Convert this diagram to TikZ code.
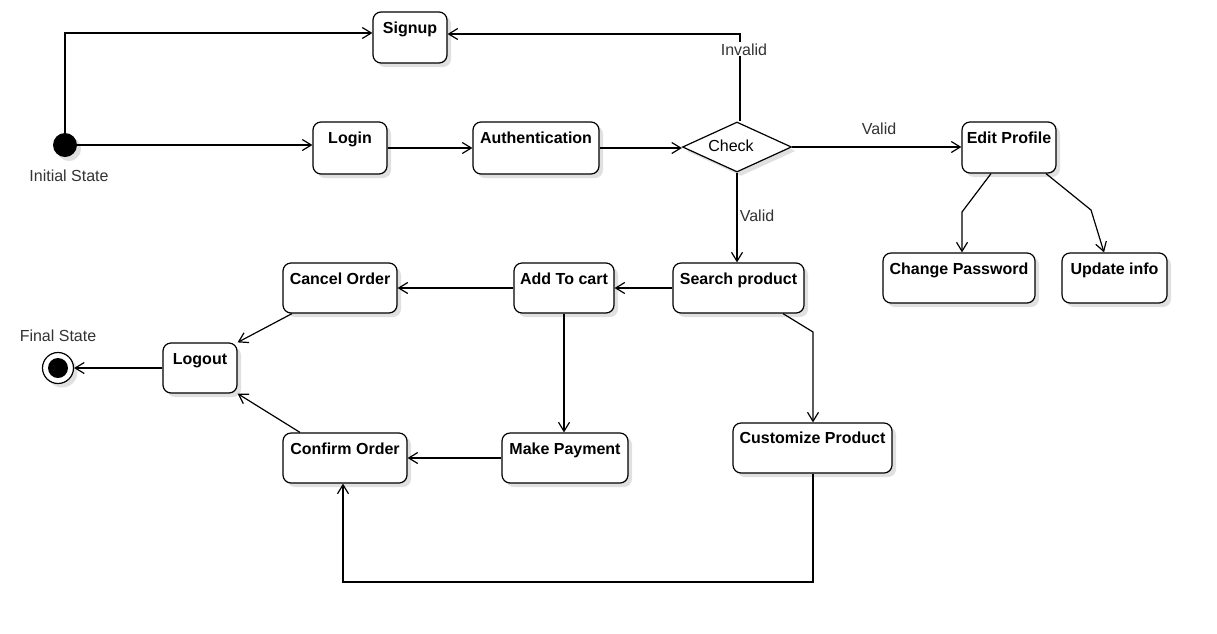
\documentclass[tikz,border=0pt]{standalone}
\usepackage{fontspec}
\setmainfont{Liberation Sans}
\usetikzlibrary{arrows.meta,shapes.geometric,shadows}
\tikzset{
  sbox/.style={draw, line width=1.2pt, rounded corners=8pt, fill=white, inner sep=0pt,
    general shadow={fill=black!12, shadow xshift=4pt, shadow yshift=-4pt}},
  stext/.style={font=\bfseries\fontsize{16}{19}\selectfont, anchor=base, inner sep=0pt},
  lbl/.style={font=\fontsize{16}{19}\selectfont, anchor=base, inner sep=0pt, text=black!80},
  arr/.style={draw, line width=1.2pt, -{Straight Barb[length=9pt,width=11pt]}},
}
\begin{document}
\begin{tikzpicture}[x=1pt,y=-1pt]
\useasboundingbox[fill=white] (0,0) rectangle (1217,633);

% states
\node[sbox, minimum width=74pt, minimum height=51pt] (signup) at (410,37.5) {};
\node[sbox, minimum width=74pt, minimum height=52pt] (login) at (350,148) {};
\node[sbox, minimum width=126pt, minimum height=52pt] (auth) at (536,148) {};
\node[diamond, draw, line width=1.2pt, fill=white, inner sep=0pt, minimum width=109pt, minimum height=50pt,
  general shadow={fill=black!12, shadow xshift=4pt, shadow yshift=-4pt}] (check) at (737,147) {};
\node[sbox, minimum width=94pt, minimum height=51pt] (editp) at (1009,147.5) {};
\node[sbox, minimum width=152pt, minimum height=50pt] (chpw) at (959,278) {};
\node[sbox, minimum width=105pt, minimum height=50pt] (upd) at (1114.5,278) {};
\node[sbox, minimum width=131pt, minimum height=50pt] (search) at (738.5,288) {};
\node[sbox, minimum width=100pt, minimum height=50pt] (addcart) at (564,288) {};
\node[sbox, minimum width=114pt, minimum height=50pt] (cancel) at (340,288) {};
\node[sbox, minimum width=74pt, minimum height=50pt] (logout) at (200,368) {};
\node[sbox, minimum width=124pt, minimum height=50pt] (confirm) at (345,458) {};
\node[sbox, minimum width=126pt, minimum height=50pt] (pay) at (565,458) {};
\node[sbox, minimum width=159pt, minimum height=50pt] (custom) at (812.5,448) {};

\node[circle, fill=black, inner sep=0pt, minimum size=24pt,
  general shadow={fill=black!12, shadow xshift=4pt, shadow yshift=-4pt}] (init) at (65,145) {};
\node[circle, draw, line width=1.2pt, fill=white, inner sep=0pt, minimum size=31pt,
  general shadow={fill=black!12, shadow xshift=4pt, shadow yshift=-4pt}] (final) at (58,368) {};
\node[circle, fill=black, inner sep=0pt, minimum size=20pt] (finaldot) at (final.center) {};

% texts
\node[stext] (tsignup) at ([yshift=-22pt]signup.north) {Signup};
\node[stext] (tlogin) at ([yshift=-22pt]login.north) {Login};
\node[stext] (tauth) at ([yshift=-22pt]auth.north) {Authentication};
\node[lbl, text=black] (tcheck) at (731,151) {Check};
\node[stext] (teditp) at ([yshift=-22pt]editp.north) {Edit Profile};
\node[stext] (tchpw) at ([yshift=-22pt]chpw.north) {Change Password};
\node[stext] (tupd) at ([yshift=-22pt]upd.north) {Update info};
\node[stext] (tsearch) at ([yshift=-22pt]search.north) {Search product};
\node[stext] (taddcart) at ([yshift=-22pt]addcart.north) {Add To cart};
\node[stext] (tcancel) at ([yshift=-22pt]cancel.north) {Cancel Order};
\node[stext] (tlogout) at ([yshift=-22pt]logout.north) {Logout};
\node[stext] (tconfirm) at ([yshift=-22pt]confirm.north) {Confirm Order};
\node[stext] (tpay) at ([yshift=-22pt]pay.north) {Make Payment};
\node[stext] (tcustom) at ([yshift=-21pt]custom.north) {Customize Product};
\node[lbl] (tinit) at (69,181) {Initial State};
\node[lbl] (tfinal) at (58,341) {Final State};

% bend points
\coordinate (ci) at (740,34);
\coordinate (b1) at (962,212);
\coordinate (b2) at (1091,210);
\coordinate (b3) at (813,332);
\coordinate (b4) at (813,582);

% connectors
\draw[arr] (init.north) |- ([yshift=4.5pt]signup.west);
\draw[arr] (init.east) -- (init.east -| login.west);
\draw[arr] (login.east) -- (auth.west);
\draw[arr] (auth.east) -- (auth.east -| check.west);
\draw[arr] (check.north -| ci) -- (ci) -- (ci -| signup.east);
\node[lbl, fill=white, inner sep=1pt] (tinvalid) at (744,55) {Invalid};
\draw[arr] (check.east) -- (check.east -| editp.west);
\node[lbl] (tvalid1) at (879,134) {Valid};
\draw[arr] (check.south) -- (check.south |- search.north);
\node[lbl] (tvalid2) at (757,221) {Valid};
\draw[arr] ([xshift=-18pt]editp.south) -- (b1) -- (b1 |- chpw.north);
\draw[arr] ([xshift=37pt]editp.south) -- (b2) -- ([xshift=-10.5pt]upd.north);
\draw[arr] (search.west) -- (addcart.east);
\draw[arr] (addcart.west) -- (cancel.east);
\draw[arr] ([xshift=44.5pt]search.south) -- (b3) -- (b3 |- custom.north);
\draw[arr] (addcart.south) -- (addcart.south |- pay.north);
\draw[arr] (pay.west) -- (confirm.east);
\draw[arr] (custom.south -| b4) -- (b4) -| ([xshift=-2pt]confirm.south);
\draw[arr] ([xshift=-48pt]cancel.south) -- (logout.north east);
\draw[arr] ([xshift=-45pt]confirm.north) -- (logout.south east);
\draw[arr] (logout.west) -- (final.east);
\end{tikzpicture}
\end{document}
